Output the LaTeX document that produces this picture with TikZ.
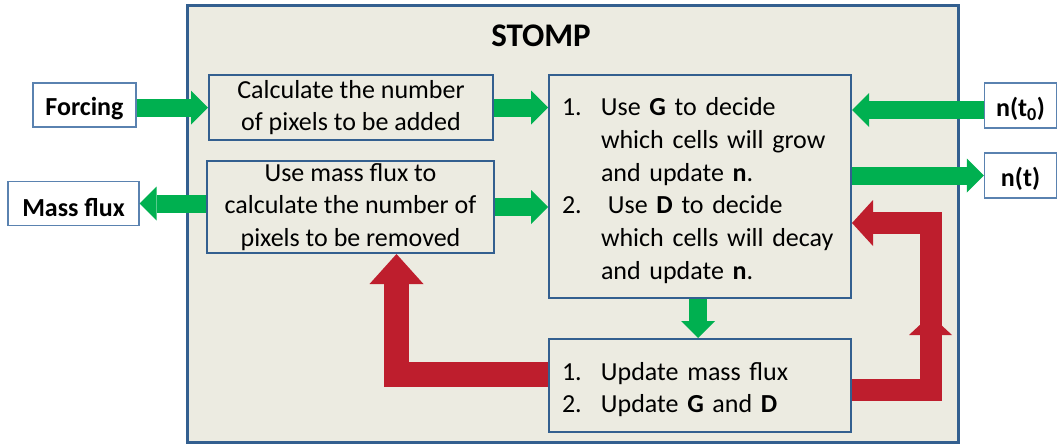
\documentclass[tikz,border=0pt]{standalone}
\usepackage{fontspec}
\setmainfont{Carlito}
\usetikzlibrary{arrows.meta,calc}
\definecolor{frameblue}{HTML}{335F8F}
\definecolor{labelblue}{HTML}{5A82B0}
\definecolor{panelfill}{HTML}{ECEBE1}
\definecolor{arrowgreen}{HTML}{00B050}
\definecolor{arrowred}{HTML}{BE1E2D}
\begin{document}
\begin{tikzpicture}[x=1pt,y=-1pt,
  every node/.style={font=\fontsize{26}{32.8}\selectfont},
  lowered/.style={execute at begin node={\rule{0pt}{26pt}}},
  innerbox/.style={lowered,draw=frameblue,line width=2pt,fill=panelfill,rectangle,inner sep=0pt,align=center},
  listbox/.style={lowered,draw=frameblue,line width=2pt,fill=panelfill,rectangle,inner xsep=13pt,inner ysep=0pt,align=left},
  outlabel/.style={lowered,draw=labelblue,line width=1.2pt,fill=white,rectangle,inner sep=0pt,font=\fontsize{26}{32.8}\selectfont\bfseries},
  greenarrow/.style={draw=arrowgreen,line width=18pt,-{Triangle[length=17pt,width=34pt,line width=0pt]}},
  redarrow/.style={draw=arrowred,line join=miter},
]
\useasboundingbox (0,0) rectangle (1057,445);
\fill[white] (0,0) rectangle (1057,445);
% outer frame
\draw[frameblue,line width=3pt,fill=panelfill] (187,5) rectangle (958,442);
\node[anchor=base,font=\fontsize{33}{40}\selectfont\bfseries] (title) at (541,46) {STOMP};
% inner boxes
\node[innerbox,minimum width=284pt,minimum height=65pt] (A) at (351,107.5)
  {Calculate the number\\of pixels to be added};
\node[innerbox,minimum width=287pt,minimum height=92pt] (B) at (350.5,207)
  {Use mass flux to\\calculate the number of\\pixels to be removed};
\node[listbox,text width=276pt,minimum height=223pt] (C) at (700,186.5)
  {\makebox[39pt][l]{1.}Use \textbf{G} to decide\\
   \hspace*{39pt}which cells will grow\\
   \hspace*{39pt}and update \textbf{n}.\\
   \makebox[39pt][l]{2.}\hspace*{7pt}Use \textbf{D} to decide\\
   \hspace*{39pt}which cells will decay\\
   \hspace*{39pt}and update \textbf{n}.};
\node[listbox,text width=276pt,minimum height=93pt] (D) at (700,385.5)
  {\makebox[39pt][l]{1.}Update mass flux\\
   \makebox[39pt][l]{2.}Update \textbf{G} and \textbf{D}};
% outside labels
\node[outlabel,minimum width=103pt,minimum height=44pt] (F) at (84.5,105) {Forcing};
\node[outlabel,minimum width=131pt,minimum height=44pt] (M) at (73.5,203.5) {Mass flux};
\node[outlabel,minimum width=72pt,minimum height=45pt] (N0) at (1020.5,105.5) {n(t\textsubscript{0})};
\node[outlabel,minimum width=72pt,minimum height=45pt] (N) at (1020.5,175.5) {n(t)};
% green arrows
\draw[greenarrow] (F.east |- A.west) -- (A.west);
\draw[greenarrow] (B.west |- M.east) -- (M.east);
\draw[greenarrow] (A.east) -- (C.west |- A.east);
\draw[greenarrow] (B.east) -- (C.west |- B.east);
\draw[greenarrow] ($(C.south)+(-2,0)$) -- ($(D.north)+(-2,0)$);
\coordinate (n0y) at ($(N0.west)+(0,4.5)$);
\draw[greenarrow] (n0y) -- (C.east |- n0y);
\draw[greenarrow] (C.east |- N.west) -- (N.west);
% red arrows
\draw[redarrow,line width=25pt,-{Triangle[length=30pt,width=54pt,line width=0pt]}]
  ($(D.west)+(0,-11.5)$) -| ($(B.south)+(46,0)$);
\draw[redarrow,line width=22.5pt,-{Triangle[length=21pt,width=46pt,line width=0pt]}]
  ($(D.east)+(0,4.5)$) -| ($(C.east)+(79,36.5)$) -- ($(C.east)+(0,36.5)$);
\fill[arrowred] (909,335) -- (952,335) -- (930.5,315) -- cycle;
\end{tikzpicture}
\end{document}
